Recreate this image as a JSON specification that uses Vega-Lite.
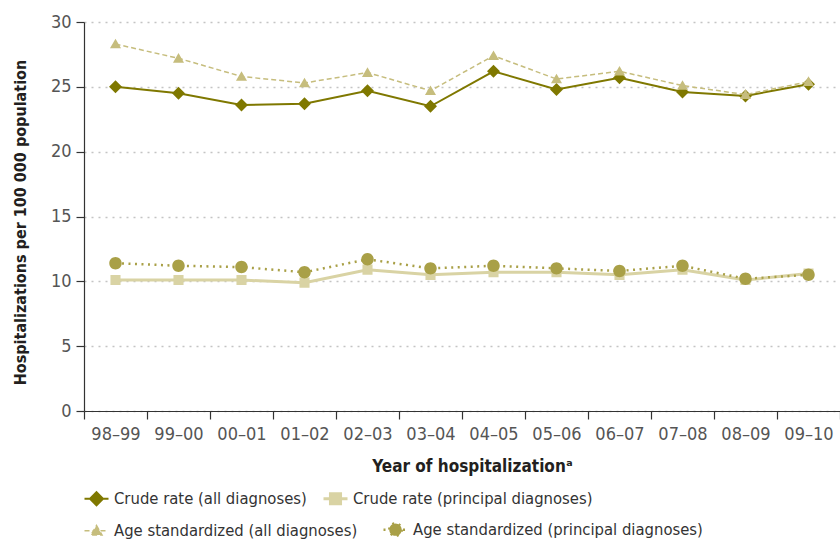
{
  "$schema": "https://vega.github.io/schema/vega-lite/v6.json",
  "autosize": "none",
  "width": 756,
  "height": 389,
  "padding": {"left": 84, "top": 22, "right": 0, "bottom": 129},
  "background": "white",
  "config": {
    "view": {"stroke": null},
    "font": "Liberation Sans Narrow, DejaVu Sans Condensed, sans-serif",
    "legend": {
      "title": null,
      "orient": "none",
      "direction": "horizontal",
      "columns": 2,
      "padding": 0,
      "symbolSize": 576,
      "symbolStrokeWidth": 2,
      "labelFontSize": 16.5,
      "labelColor": "#333333",
      "labelOffset": 4,
      "labelLimit": 400
    }
  },
  "data": {
    "values": [
      {"year": "98–99", "series": "Crude rate (all diagnoses)", "value": 25.0},
      {"year": "99–00", "series": "Crude rate (all diagnoses)", "value": 24.5},
      {"year": "00–01", "series": "Crude rate (all diagnoses)", "value": 23.6},
      {"year": "01–02", "series": "Crude rate (all diagnoses)", "value": 23.7},
      {"year": "02–03", "series": "Crude rate (all diagnoses)", "value": 24.7},
      {"year": "03–04", "series": "Crude rate (all diagnoses)", "value": 23.5},
      {"year": "04–05", "series": "Crude rate (all diagnoses)", "value": 26.2},
      {"year": "05–06", "series": "Crude rate (all diagnoses)", "value": 24.8},
      {"year": "06–07", "series": "Crude rate (all diagnoses)", "value": 25.7},
      {"year": "07–08", "series": "Crude rate (all diagnoses)", "value": 24.6},
      {"year": "08–09", "series": "Crude rate (all diagnoses)", "value": 24.3},
      {"year": "09–10", "series": "Crude rate (all diagnoses)", "value": 25.2},
      {"year": "98–99", "series": "Crude rate (principal diagnoses)", "value": 10.1},
      {"year": "99–00", "series": "Crude rate (principal diagnoses)", "value": 10.1},
      {"year": "00–01", "series": "Crude rate (principal diagnoses)", "value": 10.1},
      {"year": "01–02", "series": "Crude rate (principal diagnoses)", "value": 9.9},
      {"year": "02–03", "series": "Crude rate (principal diagnoses)", "value": 10.9},
      {"year": "03–04", "series": "Crude rate (principal diagnoses)", "value": 10.5},
      {"year": "04–05", "series": "Crude rate (principal diagnoses)", "value": 10.7},
      {"year": "05–06", "series": "Crude rate (principal diagnoses)", "value": 10.7},
      {"year": "06–07", "series": "Crude rate (principal diagnoses)", "value": 10.5},
      {"year": "07–08", "series": "Crude rate (principal diagnoses)", "value": 10.9},
      {"year": "08–09", "series": "Crude rate (principal diagnoses)", "value": 10.1},
      {"year": "09–10", "series": "Crude rate (principal diagnoses)", "value": 10.6},
      {"year": "98–99", "series": "Age standardized (all diagnoses)", "value": 28.3},
      {"year": "99–00", "series": "Age standardized (all diagnoses)", "value": 27.2},
      {"year": "00–01", "series": "Age standardized (all diagnoses)", "value": 25.8},
      {"year": "01–02", "series": "Age standardized (all diagnoses)", "value": 25.3},
      {"year": "02–03", "series": "Age standardized (all diagnoses)", "value": 26.1},
      {"year": "03–04", "series": "Age standardized (all diagnoses)", "value": 24.7},
      {"year": "04–05", "series": "Age standardized (all diagnoses)", "value": 27.4},
      {"year": "05–06", "series": "Age standardized (all diagnoses)", "value": 25.6},
      {"year": "06–07", "series": "Age standardized (all diagnoses)", "value": 26.2},
      {"year": "07–08", "series": "Age standardized (all diagnoses)", "value": 25.1},
      {"year": "08–09", "series": "Age standardized (all diagnoses)", "value": 24.4},
      {"year": "09–10", "series": "Age standardized (all diagnoses)", "value": 25.4},
      {"year": "98–99", "series": "Age standardized (principal diagnoses)", "value": 11.4},
      {"year": "99–00", "series": "Age standardized (principal diagnoses)", "value": 11.2},
      {"year": "00–01", "series": "Age standardized (principal diagnoses)", "value": 11.1},
      {"year": "01–02", "series": "Age standardized (principal diagnoses)", "value": 10.7},
      {"year": "02–03", "series": "Age standardized (principal diagnoses)", "value": 11.7},
      {"year": "03–04", "series": "Age standardized (principal diagnoses)", "value": 11.0},
      {"year": "04–05", "series": "Age standardized (principal diagnoses)", "value": 11.2},
      {"year": "05–06", "series": "Age standardized (principal diagnoses)", "value": 11.0},
      {"year": "06–07", "series": "Age standardized (principal diagnoses)", "value": 10.8},
      {"year": "07–08", "series": "Age standardized (principal diagnoses)", "value": 11.2},
      {"year": "08–09", "series": "Age standardized (principal diagnoses)", "value": 10.2},
      {"year": "09–10", "series": "Age standardized (principal diagnoses)", "value": 10.5}
    ]
  },
  "encoding": {
    "x": {
      "field": "year",
      "type": "nominal",
      "sort": null,
      "scale": {"type": "band", "paddingInner": 0, "paddingOuter": 0,
        "domain": ["98–99","99–00","00–01","01–02","02–03","03–04","04–05","05–06","06–07","07–08","08–09","09–10"]},
      "axis": {
        "title": "Year of hospitalizationᵃ",
        "titleFontSize": 17,
        "titleFontWeight": "bold",
        "titleColor": "#231f20",
        "titlePadding": 15,
        "titleX": 388,
        "labelAngle": 0,
        "labelFontSize": 18,
        "labelColor": "#555555",
        "labelPadding": 6,
        "tickBand": "extent",
        "tickSize": 8,
        "tickColor": "#333333",
        "domainColor": "#333333",
        "tickWidth": 1.2,
        "domainWidth": 1.2,
        "grid": false
      }
    },
    "y": {
      "field": "value",
      "type": "quantitative",
      "scale": {"domain": [0, 30], "nice": false, "zero": true},
      "axis": {
        "title": "Hospitalizations per 100 000 population",
        "titleFontSize": 16,
        "titleFontWeight": "bold",
        "titleColor": "#231f20",
        "titlePadding": 22,
        "titleY": 200,
        "values": [0, 5, 10, 15, 20, 25, 30],
        "labelFontSize": 18,
        "labelColor": "#555555",
        "labelPadding": 5,
        "tickSize": 8,
        "tickColor": "#333333",
        "tickWidth": 1.2,
        "domainColor": "#333333",
        "domainWidth": 1.2,
        "grid": true,
        "gridColor": "#c4c4c4",
        "gridWidth": 1.5,
        "gridDash": [2, 5]
      }
    }
  },
  "layer": [
    {
      "transform": [{"filter": "indexof(datum.series, 'Crude') === 0"}],
      "layer": [
        {
          "mark": {"type": "line"},
          "encoding": {
            "stroke": {
              "field": "series",
              "type": "nominal",
              "scale": {
                "domain": ["Crude rate (all diagnoses)", "Crude rate (principal diagnoses)"],
                "range": ["#7f7800", "#d9d3a4"]
              },
              "legend": {"legendX": -1, "legendY": 463, "columnPadding": 10}
            },
            "strokeWidth": {
              "field": "series",
              "type": "ordinal",
              "scale": {
                "domain": ["Crude rate (all diagnoses)", "Crude rate (principal diagnoses)"],
                "range": [2, 3]
              },
              "legend": null
            }
          }
        },
        {
          "mark": {"type": "point", "filled": true, "opacity": 1, "size": 576},
          "encoding": {
            "fill": {
              "field": "series",
              "type": "nominal",
              "scale": {
                "domain": ["Crude rate (all diagnoses)", "Crude rate (principal diagnoses)"],
                "range": ["#7f7800", "#d9d3a4"]
              },
              "legend": null
            },
            "shape": {
              "field": "series",
              "type": "nominal",
              "scale": {
                "domain": ["Crude rate (all diagnoses)", "Crude rate (principal diagnoses)"],
                "range": [
                  "M-1,0H1M0,-0.54L0.54,0L0,0.54L-0.54,0Z",
                  "M-1,0H1M-0.42,-0.42H0.42V0.42H-0.42Z"
                ]
              },
              "legend": null
            }
          }
        }
      ]
    },
    {
      "transform": [{"filter": "indexof(datum.series, 'Age') === 0"}],
      "layer": [
        {
          "mark": {"type": "line"},
          "encoding": {
            "stroke": {
              "field": "series",
              "type": "nominal",
              "scale": {
                "domain": ["Age standardized (all diagnoses)", "Age standardized (principal diagnoses)"],
                "range": ["#c6bd7d", "#a9a047"]
              },
              "legend": {"legendX": -1, "legendY": 494, "columnPadding": 20}
            },
            "strokeDash": {
              "field": "series",
              "type": "nominal",
              "scale": {
                "domain": ["Age standardized (all diagnoses)", "Age standardized (principal diagnoses)"],
                "range": [[5, 3], [2, 4.5]]
              },
              "legend": null
            },
            "strokeWidth": {
              "field": "series",
              "type": "ordinal",
              "scale": {
                "domain": ["Age standardized (all diagnoses)", "Age standardized (principal diagnoses)"],
                "range": [1.5, 2.5]
              },
              "legend": null
            }
          }
        },
        {
          "mark": {"type": "point", "filled": true, "opacity": 1, "size": 576},
          "encoding": {
            "fill": {
              "field": "series",
              "type": "nominal",
              "scale": {
                "domain": ["Age standardized (all diagnoses)", "Age standardized (principal diagnoses)"],
                "range": ["#c6bd7d", "#a9a047"]
              },
              "legend": null
            },
            "shape": {
              "field": "series",
              "type": "nominal",
              "scale": {
                "domain": ["Age standardized (all diagnoses)", "Age standardized (principal diagnoses)"],
                "range": [
                  "M-1,0H1M0,-0.44L0.46,0.36L-0.46,0.36Z",
                  "M-1,0H1M0.52,0A0.52,0.52,0,1,1,-0.52,0A0.52,0.52,0,1,1,0.52,0Z"
                ]
              },
              "legend": null
            }
          }
        }
      ]
    }
  ],
  "resolve": {
    "scale": {"stroke": "independent", "fill": "independent", "shape": "independent", "strokeDash": "independent", "strokeWidth": "independent"},
    "legend": {"stroke": "independent", "fill": "independent", "shape": "independent", "strokeDash": "independent", "strokeWidth": "independent"}
  }
}
